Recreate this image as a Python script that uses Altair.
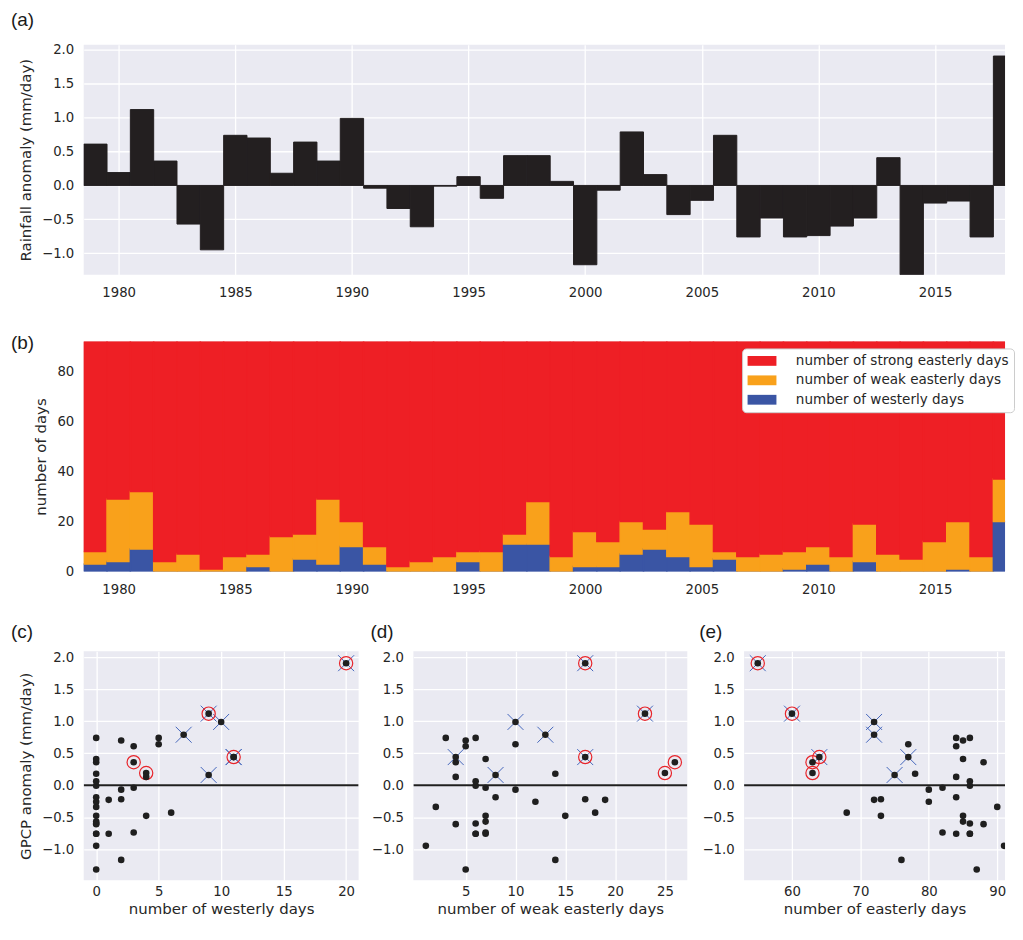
import altair as alt
import pandas as pd

# ---------------- data ----------------
years = list(range(1979, 2019))
rain_anomaly = [0.61, 0.19, 1.12, 0.36, -0.57, -0.95, 0.74, 0.70, 0.18, 0.64,
                0.36, 0.99, -0.04, -0.34, -0.61, -0.01, 0.13, -0.19, 0.44, 0.44,
                0.06, -1.17, -0.07, 0.79, 0.16, -0.43, -0.22, 0.74, -0.76, -0.48,
                -0.76, -0.74, -0.60, -0.48, 0.41, -1.32, -0.26, -0.23, -0.76, 1.91]
westerly_days = [3, 4, 9, 0, 0, 0, 0, 2, 0, 5,
                 3, 10, 3, 0, 0, 0, 4, 0, 11, 11,
                 0, 2, 2, 7, 9, 6, 2, 5, 0, 0,
                 1, 3, 0, 4, 0, 0, 0, 1, 0, 20]
weak_easterly_days = [5, 25, 23, 4, 7, 1, 6, 5, 14, 10,
                      26, 10, 7, 2, 4, 6, 4, 8, 4, 17,
                      6, 14, 10, 13, 8, 18, 17, 3, 6, 7,
                      7, 7, 6, 15, 7, 5, 12, 19, 6, 17]
season_days = 92
circled_years = [1980, 1981, 1989, 1998, 2018]
crossed_years = [1981, 1990, 1997, 1998, 2002, 2003, 2018]

year_ticks = [1980, 1985, 1990, 1995, 2000, 2005, 2010, 2015]
anomaly_ticks = [-1.0, -0.5, 0.0, 0.5, 1.0, 1.5, 2.0]
days_ticks = [0, 20, 40, 60, 80]
westerly_ticks = [0, 5, 10, 15, 20]
weak_ticks = [5, 10, 15, 20, 25]
easterly_ticks = [60, 70, 80, 90]

category_names = ["number of strong easterly days",
                  "number of weak easterly days",
                  "number of westerly days"]
category_colors = ["#EE1F25", "#F9A11B", "#3A55A4"]

# ---------------- tables ----------------
df = pd.DataFrame({"year": years, "anom": rain_anomaly,
                   "west": westerly_days, "weak": weak_easterly_days})
df["strong"] = season_days - df["west"] - df["weak"]
df["x0"] = df["year"] - 0.5
df["x1"] = df["year"] + 0.5
df["zero"] = 0.0
df["circled"] = df["year"].isin(circled_years)
df["crossed"] = df["year"].isin(crossed_years)

rows = []
for y, w, k in zip(years, westerly_days, weak_easterly_days):
    rows.append({"x0": y - 0.5, "x1": y + 0.5, "cat": category_names[2], "lo": 0, "hi": w})
    rows.append({"x0": y - 0.5, "x1": y + 0.5, "cat": category_names[1], "lo": w, "hi": w + k})
    rows.append({"x0": y - 0.5, "x1": y + 0.5, "cat": category_names[0], "lo": w + k, "hi": season_days})
stack_df = pd.DataFrame(rows)

TEXT = "#262626"
BAR = "#231F20"
X_PATH = "M-1,-1L1,1M-1,1L1,-1"
RECT_PATH = "M-2,-0.68H2V0.68H-2Z"

TOP_W = 925     # width of panels (a) and (b)


def letter(txt, dx, dy):
    return alt.Chart(pd.DataFrame({"t": [txt]})).mark_text(
        align="left", baseline="middle", font="Liberation Sans", fontSize=19, color="#1a1a1a"
    ).encode(text="t:N", x=alt.value(dx), y=alt.value(dy))


year_scale = alt.Scale(domain=[1978.5, 2018], nice=False, zero=False)

# ---------------- panel (a) ----------------
bars_a = alt.Chart(df).mark_rect(color=BAR, stroke=BAR, strokeWidth=1.0, clip=True).encode(
    x=alt.X("x0:Q", scale=year_scale,
            axis=alt.Axis(values=year_ticks, format="d", title=None, labelPadding=11)),
    x2="x1:Q",
    y=alt.Y("anom:Q", scale=alt.Scale(domain=[-1.318, 2.078], nice=False, zero=False),
            axis=alt.Axis(values=anomaly_ticks, format=".1f", title="Rainfall anomaly (mm/day)")),
    y2="zero:Q",
)
panel_a = alt.layer(bars_a, letter("(a)", -73, -25)).properties(width=TOP_W, height=231)

# ---------------- panel (b) ----------------
color_scale = alt.Scale(domain=category_names, range=category_colors)
bars_b = alt.Chart(stack_df).mark_rect(strokeWidth=1.5, clip=True).encode(
    x=alt.X("x0:Q", scale=year_scale,
            axis=alt.Axis(values=year_ticks, format="d", title=None, labelPadding=11, grid=False)),
    x2="x1:Q",
    y=alt.Y("lo:Q", scale=alt.Scale(domain=[0, season_days], nice=False, zero=False),
            axis=alt.Axis(values=days_ticks, title="number of days", grid=False)),
    y2="hi:Q",
    color=alt.Color("cat:N", scale=color_scale, legend=alt.Legend(
        orient="none", legendX=661, legendY=7, title=None,
        symbolType=RECT_PATH, symbolSize=210, symbolOffset=7.5, symbolStrokeWidth=0,
        symbolOpacity=1, labelOffset=26.5, labelFontSize=13.6, labelFont="DejaVu Sans",
        labelColor=TEXT, labelLimit=400, fillColor="white", strokeColor="#cccccc",
        cornerRadius=4, padding=5, rowPadding=4.5)),
    stroke=alt.Stroke("cat:N", scale=color_scale, legend=None),
)
panel_b = alt.layer(bars_b, letter("(b)", -73, 2)).properties(width=TOP_W, height=231)

# ---------------- panels (c), (d), (e) ----------------
ys_scale = alt.Scale(domain=[-1.49, 2.097], nice=False, zero=False)


def scatter(field, domain, width, ticks, xtitle, ytitle, tag, tag_dx):
    xs = alt.Scale(domain=domain, nice=False, zero=False)
    xax = alt.Axis(values=ticks, format="d", title=xtitle, labelPadding=4.5, titlePadding=3)
    yax = alt.Axis(values=anomaly_ticks, format=".1f", title=ytitle)
    X = alt.X(f"{field}:Q", scale=xs, axis=xax)
    Y = alt.Y("anom:Q", scale=ys_scale, axis=yax)
    zero = alt.Chart(pd.DataFrame({"zero": [0.0]})).mark_rule(
        color="#1f1f1f", strokeWidth=2, clip=True
    ).encode(y=alt.Y("zero:Q", scale=ys_scale, axis=yax))
    crosses = alt.Chart(df).transform_filter("datum.crossed").mark_point(
        shape=X_PATH, size=256, filled=False, color="#4466BB", strokeWidth=1, opacity=1, clip=True
    ).encode(x=X, y=Y)
    circles = alt.Chart(df).transform_filter("datum.circled").mark_point(
        shape="circle", size=177, filled=False, color="#E8252B", strokeWidth=1.2, opacity=1, clip=True
    ).encode(x=X, y=Y)
    dots = alt.Chart(df).mark_circle(size=44, color="#1f1f1f", opacity=1, clip=True).encode(x=X, y=Y)
    return alt.layer(zero, crosses, circles, dots, letter(tag, tag_dx, -19)).properties(
        width=width, height=230)


panel_c = scatter("west", [-1, 21], 276, westerly_ticks, "number of westerly days",
                  "GPCP anomaly (mm/day)", "(c)", -73)
panel_d = scatter("weak", [-0.25, 27.25], 275, weak_ticks, "number of weak easterly days",
                  None, "(d)", -43)
panel_e = scatter("strong", [53.0, 91.14], 262, easterly_ticks, "number of easterly days",
                  None, "(e)", -45)

row = alt.hconcat(panel_c, panel_d, panel_e, spacing=12)
top = alt.vconcat(panel_a, panel_b, spacing=35).resolve_scale(
    color="independent").resolve_legend(color="independent")

chart = alt.vconcat(top, row, spacing=27).resolve_scale(
    color="independent").resolve_legend(color="independent").properties(
    padding={"left": 3, "top": 1, "right": 0, "bottom": 0}
).configure_view(fill="#EAEAF2", strokeWidth=0).configure_axis(
    domain=False, ticks=False, tickSize=0, labelPadding=10,
    labelFont="DejaVu Sans", labelFontSize=13.3, labelColor=TEXT,
    titleFont="DejaVu Sans", titleFontSize=15, titleFontWeight="normal", titleColor=TEXT,
    titlePadding=8, gridColor="white", gridWidth=1.3, gridOpacity=1
)

chart.save("out.html", embed_options={"renderer": "svg", "actions": False})
